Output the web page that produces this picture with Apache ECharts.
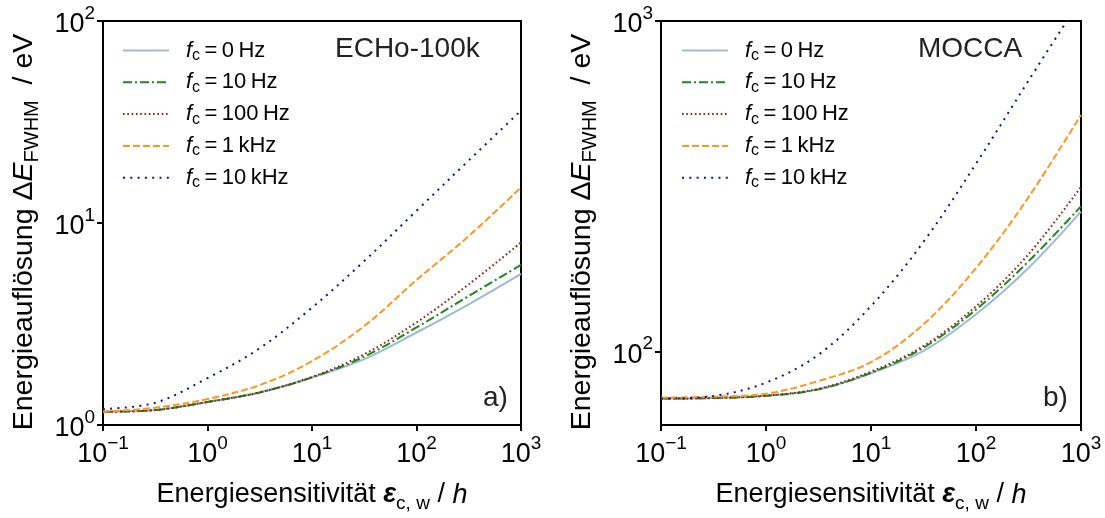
<!DOCTYPE html>
<html><head><meta charset="utf-8">
<script src="https://cdn.jsdelivr.net/npm/echarts@6/dist/echarts.min.js"></script>
<style>html,body{margin:0;padding:0;background:#fff}#c{width:1105px;height:518px}</style>
</head><body><div id="c"></div><script>
// ---- data ----
const xValues = [0.1, 0.316, 1, 3.16, 10, 31.6, 100, 316, 1000];
const seriesNames = ['0 Hz', '10 Hz', '100 Hz', '1 kHz', '10 kHz'];
// ECHo-100k (left panel)
const echo_0Hz   = [1.163, 1.186, 1.30, 1.45, 1.72, 2.12, 2.87, 3.96, 5.6];
const echo_10Hz  = [1.163, 1.186, 1.30, 1.45, 1.72, 2.18, 3.04, 4.35, 6.2];
const echo_100Hz = [1.163, 1.186, 1.30, 1.45, 1.73, 2.24, 3.22, 4.97, 8.0];
const echo_1kHz  = [1.163, 1.218, 1.344, 1.576, 2.07, 3.09, 5.22, 8.61, 15.0];
const echo_10kHz = [1.20, 1.289, 1.706, 2.40, 3.81, 6.48, 11.5, 20.4, 36.0];
// MOCCA (right panel)
const mocca_0Hz   = [72.1, 72.4, 73.5, 76.9, 86.0, 100.5, 129.7, 179, 265];
const mocca_10Hz  = [72.1, 72.4, 73.5, 76.9, 86.3, 102.8, 134, 187.5, 275];
const mocca_100Hz = [72.1, 72.4, 73.6, 77.2, 87.0, 104, 137, 197, 315];
const mocca_1kHz  = [72.6, 73.1, 74.6, 81.5, 93.0, 120.9, 179, 293, 520];
const mocca_10kHz = [72.1, 73.4, 80.6, 97.9, 137.3, 214.8, 370, 660, 1165];
// axis ticks
const xTicks = [0.1, 1, 10, 100, 1000];
const yTicksLeft = [1, 10, 100];
const yTicksRight = [100, 1000];
const panelLabels = ['ECHo-100k', 'MOCCA'];
const panelLetters = ['a)', 'b)'];

// ---- styles ----
const FONT = '"Liberation Sans", Arial, Helvetica, sans-serif';
const colors = ['#9dbad8', '#1a8a1a', '#a01c1c', '#ff981c', '#12128c'];
const dashes = ['solid', [9, 3, 2, 3], [1.6, 2.7], [7, 3], [2, 5.3]];

const tickRich = {
  b: {fontSize: 27, fontFamily: FONT, color: '#000', lineHeight: 34, verticalAlign: 'bottom'},
  p: {fontSize: 19, fontFamily: FONT, color: '#000', verticalAlign: 'top', lineHeight: 20}
};
function powFmt(v) {
  const e = Math.round(Math.log10(v));
  return '{b|10}{p|' + String(e).replace('-', '\u2212') + '}';
}
function nameStyle(fs, pad) {
  return {fontSize: fs, fontFamily: FONT, color: '#000', lineHeight: 36, padding: pad,
    rich: {
      e: {fontSize: fs, fontFamily: FONT, fontStyle: 'italic', fontWeight: 'bold', color: '#000'},
      i: {fontSize: fs, fontFamily: FONT, fontStyle: 'italic', color: '#000'},
      s: {fontSize: Math.round(fs * 0.7), fontFamily: FONT, color: '#000', verticalAlign: 'bottom', lineHeight: 20}
    }};
}
function logAxis(gi, min, max, ticks, isX) {
  return {
    type: 'log', logBase: 10, gridIndex: gi, min: min, max: max,
    axisLine: {show: true, onZero: false, lineStyle: {color: '#000', width: 2}},
    axisTick: {show: true, customValues: ticks, length: 6, lineStyle: {color: '#000', width: 2}},
    minorTick: {show: false},
    splitLine: {show: false},
    axisLabel: {customValues: ticks, formatter: powFmt, rich: tickRich, margin: isX ? 9 : 8,
      fontFamily: FONT, color: '#000', showMinLabel: true, showMaxLabel: true, hideOverlap: false},
    nameLocation: 'middle',
    nameTextStyle: isX ? nameStyle(27, 0) : nameStyle(28.5, [0, 18, 0, 0])
  };
}

const xAxes = [0, 1].map(gi => Object.assign(logAxis(gi, 0.1, 1000, xTicks, true), {
  name: 'Energiesensitivität {e|ε}{s|c, w} / {i|h}', nameGap: 52
}));
const yAxes = [
  Object.assign(logAxis(0, 1, 100, yTicksLeft, false), {name: 'Energieauflösung Δ{i|E}{s|FWHM}  / eV', nameGap: 61, nameRotate: 90}),
  Object.assign(logAxis(1, 60, 1000, yTicksRight, false), {name: 'Energieauflösung Δ{i|E}{s|FWHM}  / eV', nameGap: 61, nameRotate: 90})
];

const panelData = [
  [echo_0Hz, echo_10Hz, echo_100Hz, echo_1kHz, echo_10kHz],
  [mocca_0Hz, mocca_10Hz, mocca_100Hz, mocca_1kHz, mocca_10kHz]
];
const series = [];
panelData.forEach((arrs, p) => {
  arrs.forEach((vals, k) => {
    series.push({
      type: 'line', name: seriesNames[k], xAxisIndex: p, yAxisIndex: p,
      data: xValues.map((x, i) => [x, vals[i]]),
      symbol: 'none', showSymbol: false, smooth: 0.35, clip: true,
      lineStyle: {color: colors[k], width: 2, type: dashes[k]},
      itemStyle: {color: colors[k]},
      emphasis: {disabled: true}, silent: true, z: 2 + k
    });
  });
});

function legendFor(left) {
  return {
    orient: 'vertical', left: left, top: 37.5, padding: 0,
    itemWidth: 46, itemHeight: 14, itemGap: 5.8, icon: 'inherit',
    itemStyle: {color: 'transparent', borderColor: 'transparent', borderWidth: 0},
    lineStyle: {width: 2},
    data: seriesNames, selectedMode: false,
    formatter: n => '{i|f}{s|c}{t|\u2009=\u2009' + n.replace(' ', '\u2009') + '}',
    textStyle: {fontSize: 22, fontFamily: FONT, color: '#000', lineHeight: 26, padding: [0, 0, 0, 12],
      rich: {
        i: {fontSize: 22, fontFamily: FONT, fontStyle: 'italic', color: '#000'},
        s: {fontSize: 16, fontFamily: FONT, color: '#000', verticalAlign: 'bottom', lineHeight: 16},
        t: {fontSize: 22, fontFamily: FONT, color: '#000'}
      }}
  };
}

const chart = echarts.init(document.getElementById('c'), null, {renderer: 'canvas'});
chart.setOption({
  animation: false,
  backgroundColor: '#fff',
  grid: [
    {left: 103, top: 21, width: 418, height: 405, show: true, borderColor: '#000', borderWidth: 2, backgroundColor: 'transparent', containLabel: false},
    {left: 661, top: 21, width: 420, height: 405, show: true, borderColor: '#000', borderWidth: 2, backgroundColor: 'transparent', containLabel: false}
  ],
  xAxis: xAxes,
  yAxis: yAxes,
  legend: [legendFor(122), legendFor(681)],
  series: series,
  graphic: [
    {type: 'text', left: 335, top: 35, style: {text: panelLabels[0], font: '28px ' + FONT, fill: '#222'}},
    {type: 'text', left: 918, top: 35, style: {text: panelLabels[1], font: '28px ' + FONT, fill: '#222'}},
    {type: 'text', left: 483, top: 384, style: {text: panelLetters[0], font: '28px ' + FONT, fill: '#222'}},
    {type: 'text', left: 1043, top: 384, style: {text: panelLetters[1], font: '28px ' + FONT, fill: '#222'}}
  ]
});
</script></body></html>
